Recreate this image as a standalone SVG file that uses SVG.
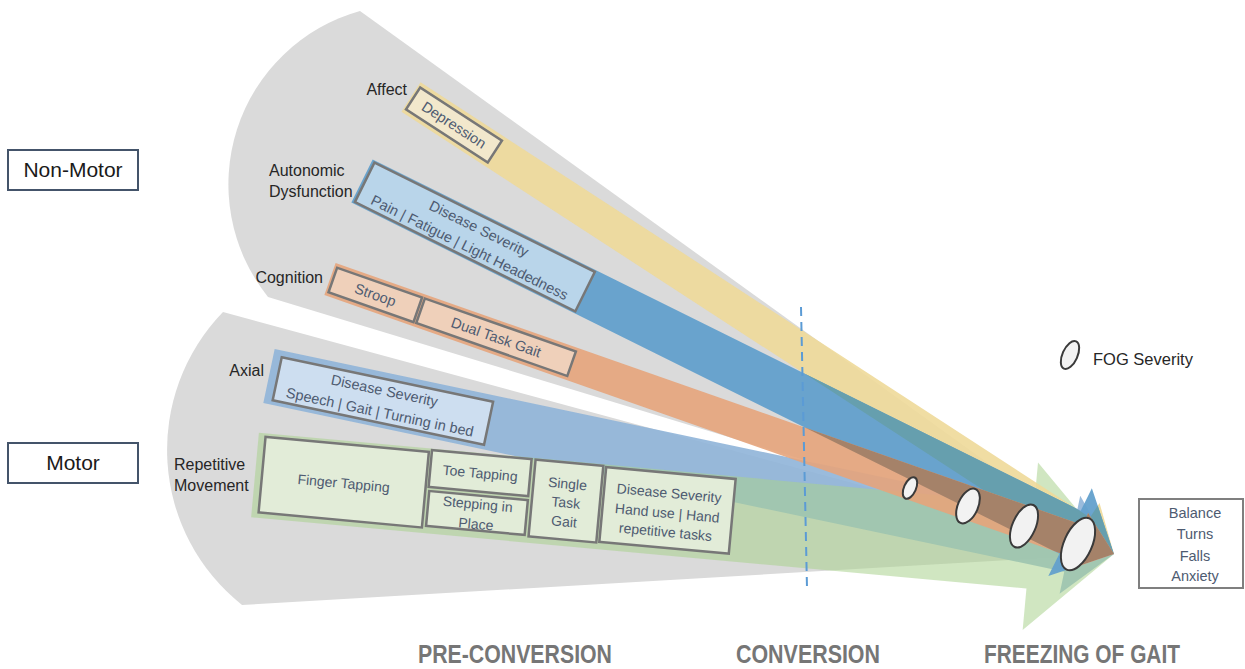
<svg xmlns="http://www.w3.org/2000/svg" xmlns:xlink="http://www.w3.org/1999/xlink" width="1245" height="669" viewBox="0 0 1245 669">
  <style>
    text { font-family: "Liberation Sans", Arial, sans-serif; }
    .lbl { font-size: 16px; fill: #262626; }
    .cat { font-size: 21px; fill: #1a1a1a; text-anchor: middle; }
    .bt { font-size: 14.5px; fill: #4e5b71; text-anchor: middle; }
    .gt { font-size: 14px; fill: #4e5b71; text-anchor: middle; }
    .phase { font-size: 25px; font-weight: bold; fill: #767676; }
    .cbox { fill: #ffffff; stroke: #44546a; stroke-width: 2; }
    .ibox { stroke: #777777; stroke-width: 2.5; }
    .fog { fill: #f2f2f2; stroke: #3a3a3a; stroke-width: 2; }
  </style>
  <defs>
    <!-- band arrows: tail at local x=0, tip at local x=L, all tips meet near (1114,554) -->
    <path id="arrowYellow" transform="translate(411,97) rotate(33.03)" d="M0,-17.5 L798.5,-17.5 L798.5,-35 L838.5,0 L798.5,35 L798.5,17.5 L0,17.5 Z"/>
    <path id="arrowBlue" transform="translate(362,181) rotate(26.38)" d="M0,-24 L790.4,-24 L790.4,-49 L839.4,0 L790.4,49 L790.4,24 L0,24 Z"/>
    <path id="arrowOrange" transform="translate(330,279) rotate(19.33)" d="M0,-17 L792.8,-17 L792.8,-30 L830.8,0 L792.8,30 L792.8,17 L0,17 Z"/>
    <path id="arrowAxial" transform="translate(269,376) rotate(11.9)" d="M0,-27.5 L818.5,-27.5 L818.5,-50 L863.5,0 L818.5,50 L818.5,27.5 L0,27.5 Z"/>
    <path id="arrowGreen" transform="translate(255,475) rotate(5.25)" d="M0,-42.5 L778.6,-42.5 L778.6,-84 L862.6,0 L778.6,84 L778.6,42.5 L0,42.5 Z"/>
    <clipPath id="clipYellow"><use xlink:href="#arrowYellow"/></clipPath>
    <clipPath id="clipOrange"><use xlink:href="#arrowOrange"/></clipPath>
  </defs>

  <!-- grey fans -->
  <g id="fans" fill="#dadada">
    <path id="fan-nonmotor" d="M360,11 A180,180 0 0 0 268,297 L1114,554 Z"/>
    <path id="fan-motor" d="M223,312 A198,198 0 0 0 242,605 L1114,554 Z"/>
  </g>

  <!-- converging bands -->
  <g id="connectors">
    <use xlink:href="#arrowAxial" fill="#8fb4d8" fill-opacity="0.9"/>
    <use xlink:href="#arrowGreen" fill="#a9d18e" fill-opacity="0.55"/>
    <use xlink:href="#arrowYellow" fill="#eed999" fill-opacity="0.9"/>
    <use xlink:href="#arrowBlue" fill="#63a0cc" fill-opacity="0.95"/>
    <g clip-path="url(#clipYellow)">
      <use xlink:href="#arrowBlue" fill="#669fae"/>
    </g>
    <use xlink:href="#arrowOrange" fill="#e6a47b" fill-opacity="0.9"/>
    <g clip-path="url(#clipOrange)">
      <use xlink:href="#arrowBlue" fill="#a58269"/>
    </g>
  </g>

  <!-- conversion marker -->
  <line id="conversion-line" x1="801" y1="307" x2="807" y2="588" stroke="#5b9bd5" stroke-width="2" stroke-dasharray="9 6"/>

  <!-- category boxes -->
  <g id="node-nonmotor">
    <rect class="cbox" x="8" y="150" width="130" height="40"/>
    <text class="cat" x="73" y="177">Non-Motor</text>
  </g>
  <g id="node-motor">
    <rect class="cbox" x="8" y="443" width="130" height="40"/>
    <text class="cat" x="73" y="470">Motor</text>
  </g>

  <!-- domain labels -->
  <g id="labels">
    <text class="lbl" x="407" y="95" text-anchor="end">Affect</text>
    <text class="lbl" x="269" y="176">Autonomic</text>
    <text class="lbl" x="269" y="197">Dysfunction</text>
    <text class="lbl" x="323" y="283" text-anchor="end">Cognition</text>
    <text class="lbl" x="264" y="376" text-anchor="end">Axial</text>
    <text class="lbl" x="174" y="470">Repetitive</text>
    <text class="lbl" x="174" y="491">Movement</text>
  </g>

  <!-- affect -->
  <g id="node-depression" transform="translate(411,97) rotate(33.03)">
    <rect class="ibox" x="2.5" y="-13" width="97.5" height="26" fill="#f2e8cc"/>
    <text class="bt" x="51.3" y="5" font-size="15">Depression</text>
  </g>

  <!-- autonomic dysfunction -->
  <g id="node-autonomic" transform="translate(362,181) rotate(26.38)">
    <rect class="ibox" x="3" y="-22" width="246" height="44" fill="#b9d5ea"/>
    <text class="bt" x="126" y="-4.4">Disease Severity</text>
    <text class="bt" x="126" y="16.8">Pain | Fatigue | Light Headedness</text>
  </g>

  <!-- cognition -->
  <g id="node-stroop" transform="translate(330,279) rotate(19.33)">
    <rect class="ibox" x="3" y="-13" width="90" height="26" fill="#efd0ba"/>
    <text class="bt" x="48" y="5">Stroop</text>
  </g>
  <g id="node-dualtask" transform="translate(330,279) rotate(19.33)">
    <rect class="ibox" x="96" y="-13" width="160" height="26" fill="#efd0ba"/>
    <text class="bt" x="176" y="5">Dual Task Gait</text>
  </g>

  <!-- axial -->
  <g id="node-axial" transform="translate(269,376) rotate(11.9)">
    <rect class="ibox" x="8.6" y="-21" width="216" height="44" fill="#cddef0"/>
    <text class="bt" x="116" y="-4.5">Disease Severity</text>
    <text class="bt" x="116" y="17.5">Speech | Gait | Turning in bed</text>
  </g>

  <!-- repetitive movement -->
  <g id="node-finger" transform="translate(255,475) rotate(5.25)">
    <rect class="ibox" x="7" y="-39" width="164" height="76" fill="#e2ecd8"/>
    <text class="gt" x="89" y="5">Finger Tapping</text>
  </g>
  <g id="node-toe" transform="translate(255,475) rotate(5.25)">
    <rect class="ibox" x="174" y="-41" width="100" height="37" fill="#e2ecd8"/>
    <text class="gt" x="224" y="-17.5">Toe Tapping</text>
  </g>
  <g id="node-stepping" transform="translate(255,475) rotate(5.25)">
    <rect class="ibox" x="175" y="0" width="99" height="35" fill="#e2ecd8"/>
    <text class="gt" x="224.5" y="13.5">Stepping in</text>
    <text class="gt" x="224.5" y="33.5">Place</text>
  </g>
  <g id="node-single" transform="translate(255,475) rotate(5.25)">
    <rect class="ibox" x="278" y="-41" width="68" height="77" fill="#e2ecd8"/>
    <text class="gt" x="312" y="-15">Single</text>
    <text class="gt" x="312" y="4">Task</text>
    <text class="gt" x="312" y="23">Gait</text>
  </g>
  <g id="node-handuse" transform="translate(255,475) rotate(5.25)">
    <rect class="ibox" x="349" y="-40" width="130" height="75" fill="#e2ecd8"/>
    <text class="gt" x="414" y="-15">Disease Severity</text>
    <text class="gt" x="414" y="5">Hand use | Hand</text>
    <text class="gt" x="414" y="24">repetitive tasks</text>
  </g>

  <!-- FOG severity markers -->
  <g id="fog-markers">
    <ellipse class="fog" cx="910" cy="488" rx="6" ry="11.5" transform="rotate(24 910 488)"/>
    <ellipse class="fog" cx="968" cy="506" rx="10" ry="18.5" transform="rotate(24 968 506)"/>
    <ellipse class="fog" cx="1024" cy="526" rx="11.5" ry="23" transform="rotate(24 1024 526)"/>
    <ellipse class="fog" cx="1078" cy="544" rx="14" ry="28" transform="rotate(24 1078 544)"/>
  </g>

  <!-- legend -->
  <g id="legend-fog">
    <ellipse class="fog" cx="1070" cy="355" rx="7.5" ry="15" stroke-width="1.8" transform="rotate(24 1070 355)"/>
    <text x="1093" y="365" font-size="16.5" fill="#262626">FOG Severity</text>
  </g>

  <!-- outcomes -->
  <g id="node-outcomes">
    <rect x="1139" y="499" width="104" height="89" fill="#ffffff" stroke="#7f7f7f" stroke-width="2"/>
    <text class="bt" x="1195" y="518" font-size="15">Balance</text>
    <text class="bt" x="1195" y="539" font-size="15">Turns</text>
    <text class="bt" x="1195" y="561" font-size="15">Falls</text>
    <text class="bt" x="1195" y="581" font-size="15">Anxiety</text>
  </g>

  <!-- phases -->
  <g id="phases">
    <text class="phase" x="418" y="663" textLength="194" lengthAdjust="spacingAndGlyphs">PRE-CONVERSION</text>
    <text class="phase" x="736" y="663" textLength="144" lengthAdjust="spacingAndGlyphs">CONVERSION</text>
    <text class="phase" x="984" y="663" textLength="196" lengthAdjust="spacingAndGlyphs">FREEZING OF GAIT</text>
  </g>
</svg>
